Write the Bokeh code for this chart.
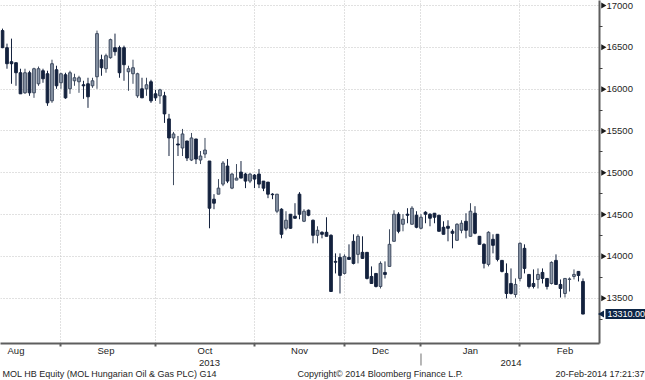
import math
from bokeh.plotting import figure
from bokeh.models import ColumnDataSource, FixedTicker, Range1d
from bokeh.embed import file_html
from bokeh.resources import INLINE
from bokeh.core.properties import value

# ---- data (daily candles, mid-Aug 2013 .. 20-Feb-2014) ----
opens = [16700, 16496, 16328, 16316, 16196, 15956, 16196, 15956, 16064, 16220,
         16184, 15860, 16232, 16076, 16172, 16004, 16100, 16088, 16052, 16064,
         16040, 16148, 16352, 16244, 16376, 16496, 16496, 16496, 16208, 16184,
         15920, 16004, 16004, 16088, 15944, 15920, 15920, 15644, 15416, 15344,
         15296, 15380, 15152, 15404, 15152, 15224, 15140, 14684, 14744, 14864,
         15080, 14816, 14912, 15008, 14984, 14900, 14972, 14984, 14900, 14888,
         14744, 14540, 14564, 14336, 14504, 14480, 14744, 14420, 14552, 14432,
         14252, 14288, 14288, 14252, 13940, 13988, 13796, 13988, 14180, 14024,
         14048, 14048, 13760, 13796, 13640, 13808, 13880, 14180, 14504, 14384,
         14504, 14384, 14492, 14336, 14528, 14504, 14516, 14492, 14348, 14360,
         14300, 14192, 14312, 14420, 14240, 14516, 14240, 14144, 13904, 14204,
         14264, 13952, 13796, 13676, 13544, 13736, 14096, 13784, 13676, 13724,
         13808, 13736, 13676, 13952, 13664, 13556, 13724, 13760, 13820, 13700]
highs = [16724, 16544, 16604, 16316, 16244, 16244, 16220, 16256, 16270, 16244,
         16220, 16352, 16280, 16196, 16196, 16220, 16184, 16160, 16100, 16136,
         16136, 16700, 16412, 16424, 16604, 16664, 16520, 16520, 16280, 16352,
         16196, 16136, 16136, 16112, 15992, 16004, 15968, 15704, 15488, 15440,
         15524, 15380, 15476, 15404, 15260, 15416, 15140, 14744, 14924, 15140,
         15164, 14996, 15104, 15140, 15000, 14996, 14984, 15044, 14900, 14888,
         14756, 14744, 14576, 14540, 14504, 14636, 14768, 14564, 14560, 14440,
         14360, 14300, 14468, 14264, 14036, 14036, 14024, 14144, 14264, 14264,
         14240, 14048, 13880, 13796, 13940, 13940, 14324, 14552, 14528, 14504,
         14576, 14600, 14540, 14504, 14540, 14516, 14516, 14492, 14420, 14432,
         14324, 14396, 14432, 14516, 14636, 14600, 14240, 14156, 14300, 14264,
         14264, 13952, 13916, 13856, 13736, 14168, 14144, 13784, 13844, 13856,
         13856, 13736, 13940, 14024, 13724, 13736, 13748, 13844, 13820, 13736]
lows = [16490, 16244, 16064, 16040, 15944, 15944, 15920, 15896, 16040, 16076,
        15800, 15836, 16004, 16004, 15884, 15944, 16040, 15956, 15884, 15776,
        16016, 16004, 16160, 16196, 16364, 16400, 16136, 16100, 15980, 16064,
        15896, 15896, 15920, 15836, 15860, 15824, 15596, 15200, 14852, 15200,
        15200, 15140, 15140, 15104, 15104, 15176, 14336, 14564, 14744, 14840,
        14876, 14804, 14912, 14936, 14816, 14876, 14816, 14816, 14780, 14696,
        14684, 14516, 14216, 14312, 14330, 14450, 14444, 14410, 14480, 14156,
        14156, 14216, 14240, 13580, 13796, 13556, 13784, 13960, 13904, 13916,
        13970, 13724, 13676, 13628, 13616, 13736, 13880, 14180, 14276, 14300,
        14396, 14384, 14336, 14324, 14396, 14360, 14396, 14300, 14264, 14180,
        14096, 14192, 14276, 14216, 14240, 14264, 14144, 13856, 13880, 14036,
        13940, 13808, 13496, 13544, 13508, 13700, 13796, 13616, 13616, 13616,
        13676, 13604, 13664, 13664, 13508, 13508, 13580, 13724, 13700, 13310]
closes = [16496, 16304, 16304, 16196, 15944, 16196, 15956, 16244, 16244, 16124,
          15836, 16304, 16040, 16184, 15896, 16196, 16136, 16136, 16040, 15908,
          16100, 16664, 16256, 16400, 16592, 16448, 16196, 16292, 16244, 16256,
          16184, 15896, 16052, 15860, 15896, 15992, 15704, 15416, 15464, 15332,
          15464, 15176, 15416, 15164, 15200, 15272, 14576, 14636, 14816, 15116,
          14900, 14984, 14936, 14936, 14900, 14984, 14924, 14864, 14816, 14744,
          14738, 14744, 14264, 14432, 14336, 14456, 14504, 14540, 14492, 14252,
          14312, 14264, 14240, 13580, 13930, 13772, 14000, 13964, 13916, 14240,
          13976, 13736, 13676, 13640, 13916, 13784, 14144, 14504, 14300, 14444,
          14492, 14576, 14348, 14468, 14504, 14456, 14468, 14300, 14264, 14336,
          14276, 14384, 14396, 14312, 14540, 14276, 14144, 13916, 14288, 14132,
          13964, 13820, 13556, 13556, 13664, 14156, 13856, 13640, 13640, 13784,
          13736, 13640, 13928, 13664, 13616, 13736, 13730, 13784, 13772, 13310]

last_price_text = "13310.00"

month_names = ["Aug", "Sep", "Oct", "Nov", "Dec", "Jan", "Feb"]
month_label_at = [3, 23, 45, 66, 84, 104, 125]      # trading-day index of month label
month_first_day = [13, 34, 56, 76, 93, 115]         # trading-day index of 1st session
year_names = ["2013", "2014"]
year_label_at = [46, 113]
year_first_day = [93]

y_major = [13500, 14000, 14500, 15000, 15500, 16000, 16500, 17000]
y_minor = [13250, 13750, 14250, 14750, 15250, 15750, 16250, 16750]

footer_texts = ["MOL HB Equity (MOL Hungarian Oil & Gas PLC) G14",
                "Copyright\u00a9 2014 Bloomberg Finance L.P.",
                "20-Feb-2014 17:21:37"]

# ---- styling / layout ----
FONT = "Liberation Sans"
FS = "9.5px"
DARK = "#14223e"
GREY_FILL = "#8e9aab"
GREY_LINE = "#3e4a5f"
GRID = "#c2c2c2"
AXIS = "#5e5e5e"
TEXT = "#1e1e1e"
TAG = "#0d2546"
W, H = 645, 380
RIGHT, BOTTOM = 46, 37
n = len(opens)
X0, X1 = -0.444, n + 2.67
Y0, Y1 = 12958, 17060
FRAME_W, FRAME_H = W - RIGHT, H - BOTTOM


def px_x(px):
    """canvas px from the frame's left edge -> x data coordinate"""
    return X0 + px * (X1 - X0) / FRAME_W


def px_below(px):
    """px below the frame's bottom edge -> y data coordinate"""
    return Y0 - px * (Y1 - Y0) / FRAME_H


def build(flag):
    sel = [i for i in range(n) if (closes[i] >= opens[i]) == flag]
    return ColumnDataSource(dict(
        x=sel,
        top=[max(opens[i], closes[i]) for i in sel],
        bottom=[min(opens[i], closes[i]) for i in sel],
        high=[highs[i] for i in sel],
        low=[lows[i] for i in sel],
    ))


up_src = build(True)
down_src = build(False)

p = figure(width=W, height=H, output_backend="svg", toolbar_location=None,
           x_range=Range1d(X0, X1), y_range=Range1d(Y0, Y1),
           y_axis_location="right",
           min_border_left=0, min_border_top=0, min_border_right=RIGHT,
           min_border_bottom=BOTTOM)
p.outline_line_color = None
p.background_fill_color = "white"
p.border_fill_color = "white"

# grids
p.ygrid.ticker = FixedTicker(ticks=y_major)
p.xgrid.ticker = FixedTicker(ticks=month_first_day)
for g in (p.xgrid, p.ygrid):
    g.grid_line_color = GRID
    g.grid_line_dash = "1 2"
    g.grid_line_width = 1

# candles
p.segment(x0="x", y0="low", x1="x", y1="high", source=down_src,
          line_color=DARK, line_width=1)
p.segment(x0="x", y0="low", x1="x", y1="high", source=up_src,
          line_color=GREY_LINE, line_width=1)
p.vbar(x="x", width=0.6, top="top", bottom="bottom", source=down_src,
       fill_color=DARK, line_color=DARK, line_width=1)
p.vbar(x="x", width=0.6, top="top", bottom="bottom", source=up_src,
       fill_color=GREY_FILL, line_color=GREY_LINE, line_width=1)

# right price axis
ya = p.yaxis[0]
ya.ticker = FixedTicker(ticks=y_major, minor_ticks=y_minor)
ya.axis_line_color = AXIS
ya.axis_line_width = 2
ya.major_tick_in = 0
ya.major_tick_out = 6
ya.major_tick_line_color = None
ya.minor_tick_in = 0
ya.minor_tick_out = 3
ya.minor_tick_line_color = "#404040"
ya.major_label_standoff = 1
ya.major_label_text_font = FONT
ya.major_label_text_font_size = FS
ya.major_label_text_color = TEXT
# triangular tick markers next to the axis line
p.scatter(x=[px_x(FRAME_W + 3.5)] * len(y_major), y=y_major, marker="triangle",
          angle=-math.pi / 2, size=6, fill_color="#1a1a1a", line_color=None,
          level="overlay")

# bottom month axis
xa = p.xaxis[0]
xa.ticker = FixedTicker(ticks=month_label_at, minor_ticks=month_first_day)
xa.major_label_overrides = {t: m for t, m in zip(month_label_at, month_names)}
xa.axis_line_color = AXIS
xa.axis_line_width = 2
xa.major_tick_line_color = None
xa.major_tick_in = 0
xa.major_tick_out = 0
xa.minor_tick_in = 0
xa.minor_tick_out = 3
xa.minor_tick_line_color = AXIS
xa.minor_tick_line_width = 2
xa.major_label_standoff = -2
xa.major_label_text_font = FONT
xa.major_label_text_font_size = FS
xa.major_label_text_color = TEXT

# year labels and year separator below the month labels
p.text(x=year_label_at, y=[px_below(19)] * len(year_label_at), text=year_names,
       text_font=value(FONT), text_font_size=FS, text_color=TEXT,
       text_align="center", text_baseline="middle", level="overlay")
p.segment(x0=year_first_day, y0=[px_below(10)] * len(year_first_day),
          x1=year_first_day, y1=[px_below(22)] * len(year_first_day),
          line_color="#707070", line_width=1, level="overlay")

# last price tag
p.scatter(x=[px_x(FRAME_W + 2.5)], y=[closes[-1]], marker="triangle",
          angle=math.pi / 2, size=7, fill_color=TAG, line_color=None,
          level="overlay")
p.text(x=[px_x(FRAME_W + 6)], y=[closes[-1]], text=[last_price_text],
       text_font=value(FONT), text_font_size="9px", text_color="white",
       text_align="left", text_baseline="middle",
       background_fill_color=TAG, padding=2, level="overlay")

# footer
p.text(x=[px_x(2), px_x(297), px_x(W - 1)], y=[px_below(30)] * 3,
       text=footer_texts, text_align=["left", "left", "right"],
       text_font=value(FONT), text_font_size="9px", text_color=TEXT,
       text_baseline="middle", level="overlay")

open("out.html", "w").write(file_html(p, INLINE))
